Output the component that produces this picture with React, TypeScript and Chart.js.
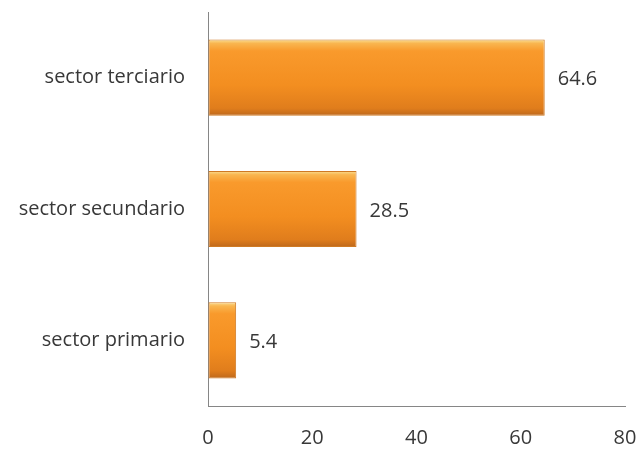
import React, { useEffect, useRef } from "react";
import { Chart, registerables } from "chart.js";

Chart.register(...registerables);

const categories = ["sector terciario", "sector secundario", "sector primario"];
const values = [64.6, 28.5, 5.4];
const xTicks = [0, 20, 40, 60, 80];

const FONT = "'Open Sans', sans-serif";
const FONT_SIZE = 20;
const TEXT_COLOR = "#383838";
const AXIS_COLOR = "#868686";

const BAR_PCT = 0.9;
const CAT_PCT = 0.645;

const valueLabels = {
  id: "valueLabels",
  afterDatasetsDraw(chart: any) {
    const ctx = chart.ctx;
    const meta = chart.getDatasetMeta(0);
    ctx.save();
    ctx.font = `${FONT_SIZE}px ${FONT}`;
    ctx.fillStyle = TEXT_COLOR;
    ctx.textAlign = "left";
    ctx.textBaseline = "middle";
    meta.data.forEach((el: any, i: number) => {
      ctx.fillText(String(values[i]), el.x + 13, el.y + 2);
    });
    ctx.restore();
  },
};

function barFill(c: any) {
  const chart = c.chart;
  const ys = chart.scales?.y;
  if (!ys || c.dataIndex === undefined) return "#f39020";
  const center = ys.getPixelForValue(c.dataIndex);
  const half = (ys.height / categories.length) * BAR_PCT * CAT_PCT / 2;
  if (!Number.isFinite(center) || !Number.isFinite(half) || half <= 0) return "#f39020";
  const g = chart.ctx.createLinearGradient(0, center - half, 0, center + half);
  g.addColorStop(0, "#fae096");
  g.addColorStop(0.05, "#f9b650");
  g.addColorStop(0.15, "#f99a2c");
  g.addColorStop(0.6, "#f38e20");
  g.addColorStop(0.9, "#e07d1c");
  g.addColorStop(1, "#bd681c");
  return g;
}

export default function App() {
  const ref = useRef<HTMLCanvasElement | null>(null);
  useEffect(() => {
    document.body.style.margin = "0";
    if (!ref.current) return;
    const chart = new Chart(ref.current, {
      type: "bar",
      data: {
        labels: categories,
        datasets: [
          {
            data: values,
            backgroundColor: barFill as any,
            borderColor: "#cf7a24",
            borderWidth: 1,
            borderSkipped: false,
            barPercentage: BAR_PCT,
            categoryPercentage: CAT_PCT,
          },
        ],
      },
      options: {
        indexAxis: "y",
        animation: false,
        responsive: false,
        maintainAspectRatio: false,
        layout: { padding: { top: 10, right: 19, bottom: 0, left: 0 } },
        plugins: { legend: { display: false }, tooltip: { enabled: false } },
        scales: {
          x: {
            min: 0,
            max: 80,
            afterBuildTicks: (axis: any) => {
              axis.ticks = xTicks.map((v) => ({ value: v }));
            },
            afterFit: (axis: any) => {
              axis.height = 44;
            },
            grid: {
              display: true,
              drawOnChartArea: false,
              drawTicks: true,
              tickLength: 20,
              tickColor: "rgba(0,0,0,0)",
            },
            border: { display: true, color: AXIS_COLOR, width: 1 },
            ticks: {
              padding: 0,
              maxRotation: 0,
              color: TEXT_COLOR,
              font: { family: FONT, size: FONT_SIZE },
            },
          },
          y: {
            afterFit: (axis: any) => {
              axis.width = 208;
            },
            grid: {
              display: true,
              drawOnChartArea: false,
              drawTicks: true,
              tickLength: 23,
              tickColor: "rgba(0,0,0,0)",
            },
            border: { display: true, color: AXIS_COLOR, width: 1 },
            ticks: {
              padding: 0,
              color: TEXT_COLOR,
              font: { family: FONT, size: FONT_SIZE },
            },
          },
        },
      },
      plugins: [valueLabels],
    });
    return () => chart.destroy();
  }, []);
  return (
    <div style={{ width: 644, height: 450, background: "#fff" }}>
      <canvas ref={ref} width={644} height={450} style={{ display: "block" }} />
    </div>
  );
}
